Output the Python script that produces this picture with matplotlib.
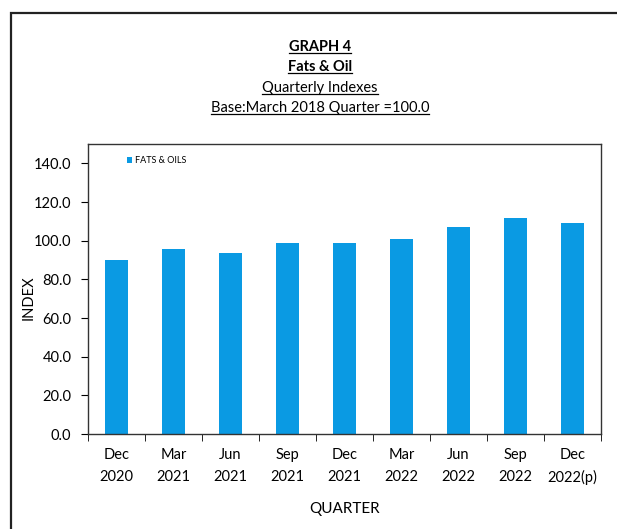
import matplotlib
matplotlib.use("Agg")
import matplotlib.pyplot as plt
from matplotlib.patches import Rectangle
from matplotlib.lines import Line2D

categories = ["Dec\n2020", "Mar\n2021", "Jun\n2021", "Sep\n2021", "Dec\n2021",
              "Mar\n2022", "Jun\n2022", "Sep\n2022", "Dec\n2022(p)"]
values = [89.9, 95.6, 93.5, 98.7, 98.8, 100.7, 107.1, 111.7, 109.1]
yticks = [0, 20, 40, 60, 80, 100, 120, 140]
series_name = "FATS & OILS"
title_lines = ["GRAPH 4", "Fats & Oil", "Quarterly Indexes", "Base:March 2018 Quarter =100.0"]

plt.rcParams['font.family'] = ['Lato', 'DejaVu Sans']

W, H = 617, 529
fig = plt.figure(figsize=(W / 100, H / 100), dpi=100)

# outer frame (only left and top visible)
fig.patches.append(Rectangle((11 / W, -0.1), 1.2, 1 - 13 / H + 0.1, transform=fig.transFigure,
                             fill=False, edgecolor='#222222', linewidth=1.6))

ax = fig.add_axes([88 / W, 1 - 434 / H, (601 - 88) / W, (434 - 144) / H])
x = list(range(len(categories)))
bars = ax.bar(x, values, width=0.39, color='#0a9ae3', label=series_name, zorder=2)
ax.set_xlim(-0.5, len(categories) - 0.5)
ax.set_ylim(0, 150)
ax.set_yticks(yticks)
ax.set_yticklabels([f"{v:.1f}" for v in yticks], fontsize=10.5)
ax.set_xticks(x)
ax.set_xticklabels(categories, fontsize=10.5, linespacing=1.7)
ax.tick_params(axis='x', length=0, pad=10)
ax.set_xticks([i + 0.5 for i in range(-1, len(categories))], minor=True)
ax.tick_params(axis='x', which='minor', length=5, direction='out')
ax.tick_params(axis='y', length=5, direction='out', pad=7)
for s in ax.spines.values():
    s.set_linewidth(1.0)
    s.set_color('#333333')

ax.set_ylabel("INDEX", fontsize=10.5, va='center')
ax.yaxis.set_label_coords((29 - 88) / 513, 0.47)
ax.set_xlabel("QUARTER", fontsize=11, va='center')
ax.xaxis.set_label_coords(0.5, (434 - 509) / 290)

leg = ax.legend(loc='upper left', bbox_to_anchor=(0.06, 0.985), frameon=False,
                fontsize=6.5, handlelength=0.6, handleheight=0.6, handletextpad=0.3)

# titles
ys = [47, 67, 88, 108]
weights = ['bold', 'bold', 'normal', 'normal']
texts = []
for t, yy, w in zip(title_lines, ys, weights):
    tx = fig.text(320 / W, 1 - yy / H, t, ha='center', va='center', fontsize=10.5, fontweight=w)
    texts.append(tx)

fig.canvas.draw()
r = fig.canvas.get_renderer()
for tx in texts:
    bb = tx.get_window_extent(r)
    yline = bb.y0 + 1
    fig.add_artist(Line2D([bb.x0 / W, bb.x1 / W], [yline / H, yline / H],
                          transform=fig.transFigure, color='black', linewidth=0.9))

fig.savefig("out.png", dpi=100)
